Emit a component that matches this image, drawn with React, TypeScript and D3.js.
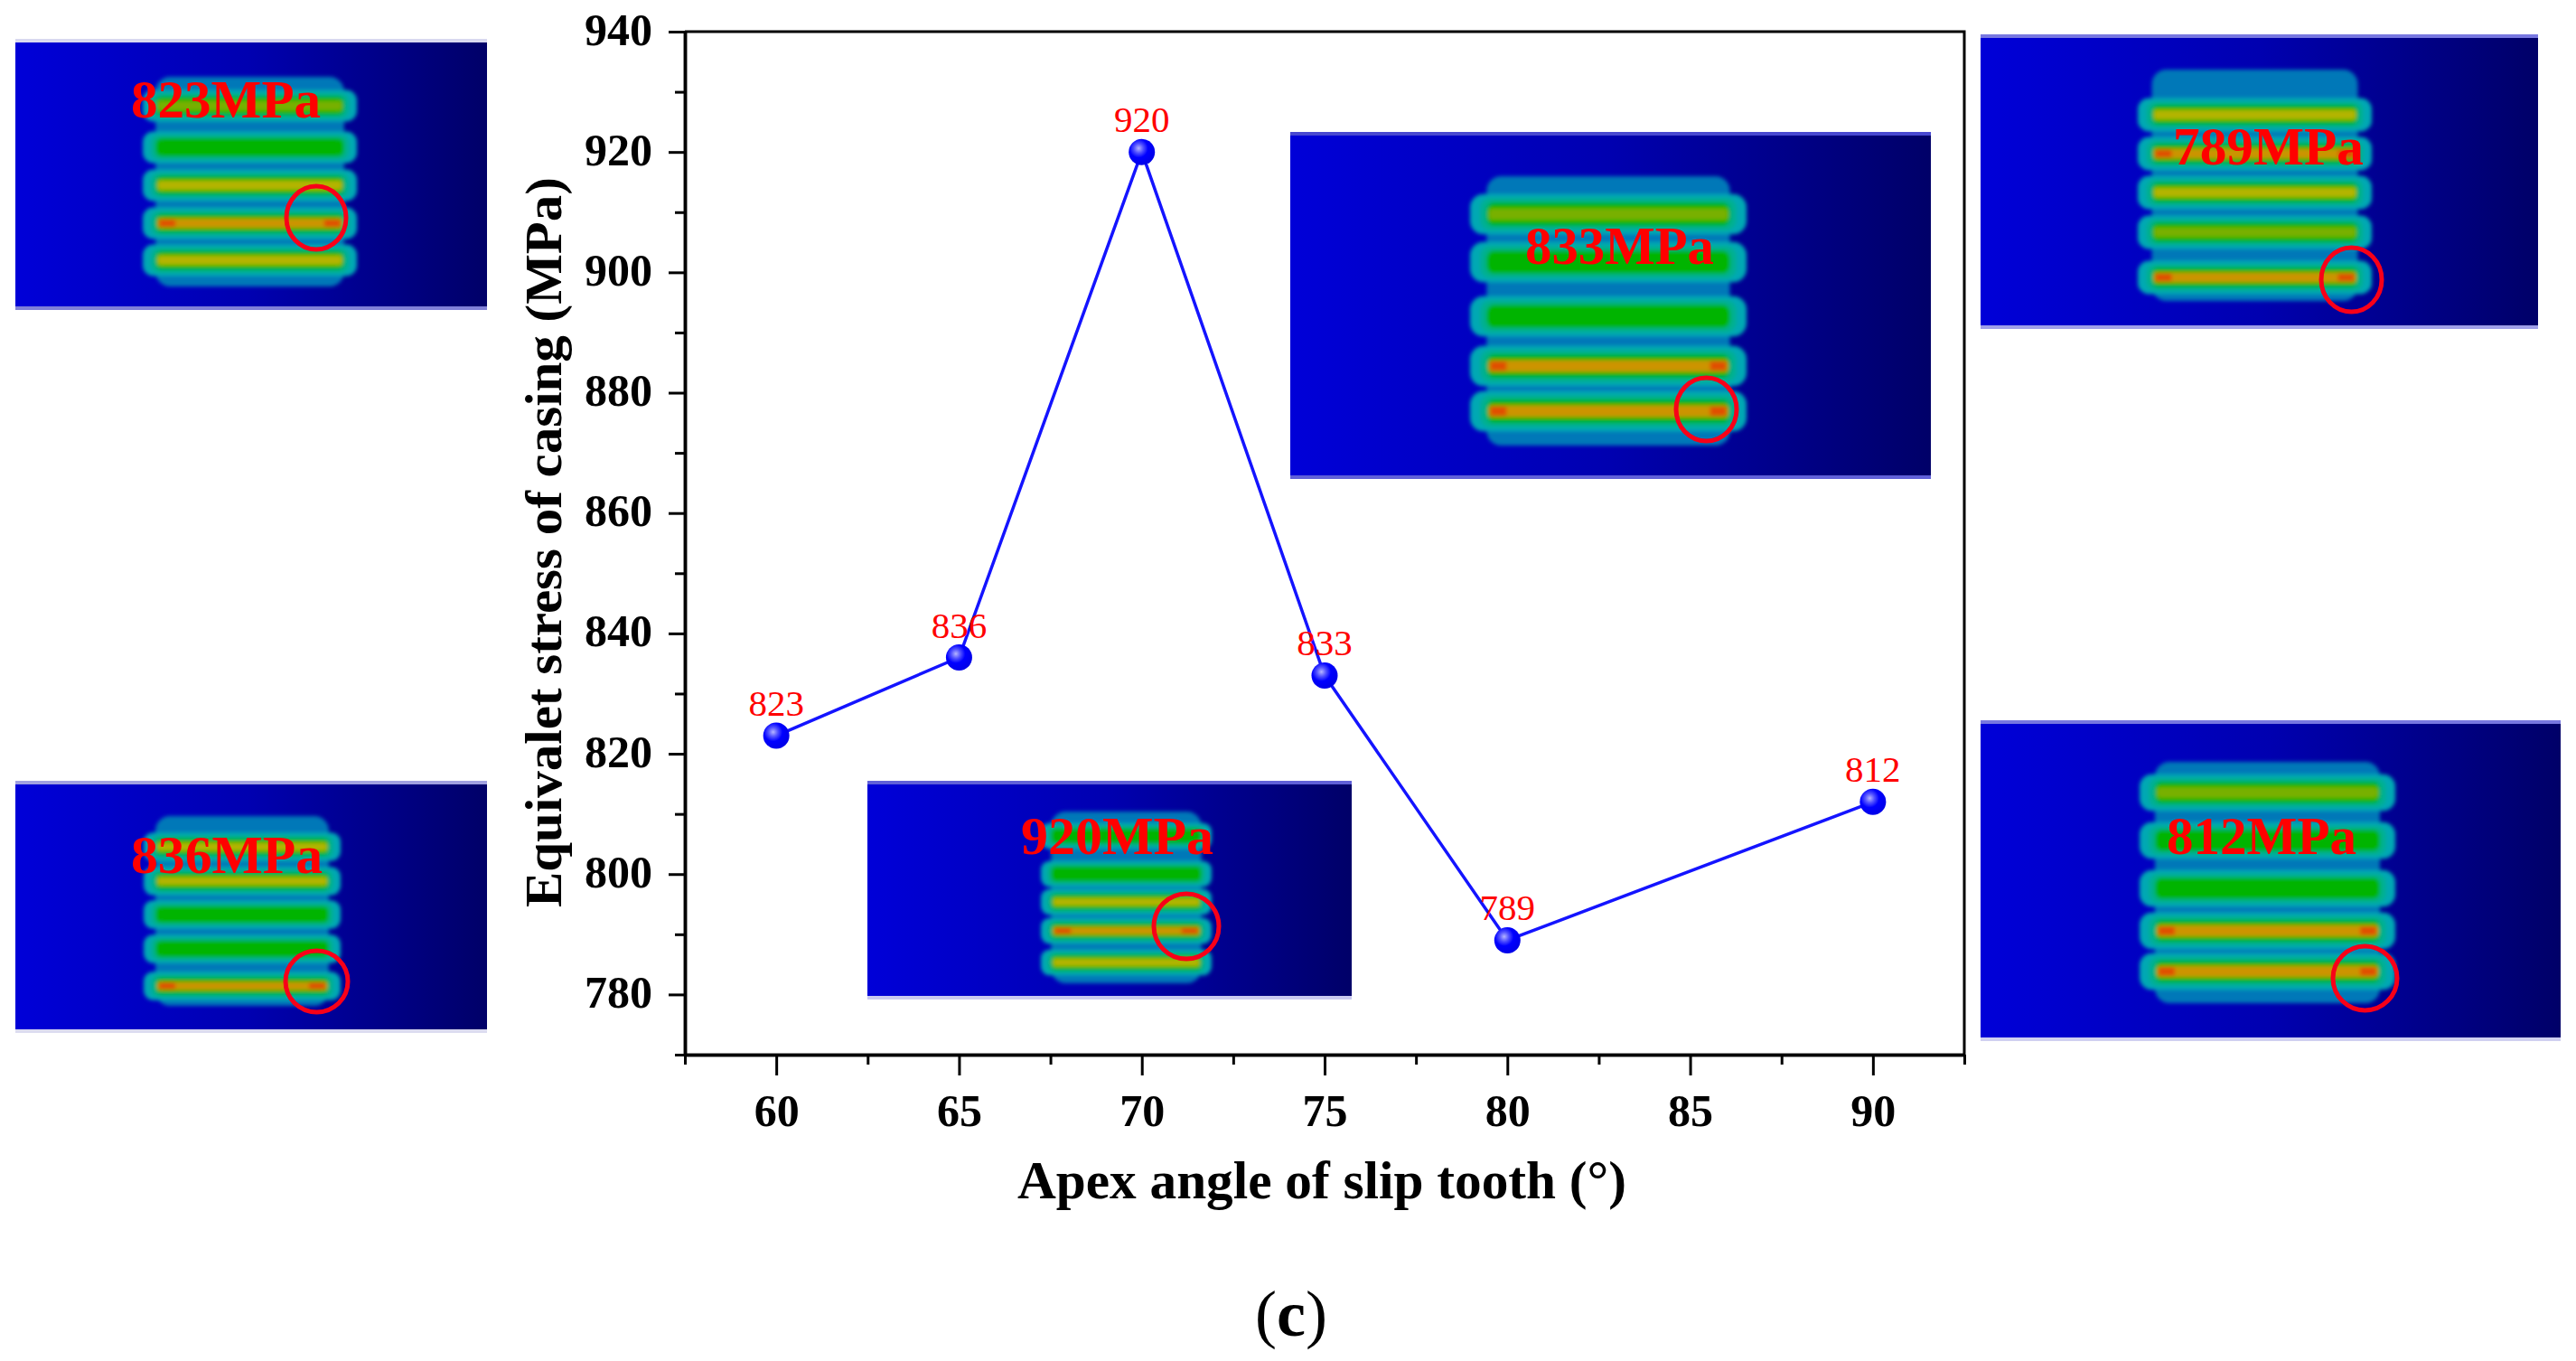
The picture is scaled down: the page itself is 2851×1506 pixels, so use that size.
/**
 * Equivalent stress of casing vs apex angle of slip tooth
 * D3 line chart with contour-plot insets around it
 */

import { useEffect, useRef } from 'react';
import * as d3 from 'd3';

const angles = [60, 65, 70, 75, 80, 90];
const stress = [823, 836, 920, 833, 789, 812];

const xMajorTicks = [60, 65, 70, 75, 80, 85, 90];
const xMinorTicks = [57.5, 62.5, 67.5, 72.5, 77.5, 82.5, 87.5, 92.5];
const yMajorTicks = [780, 800, 820, 840, 860, 880, 900, 920, 940];
const yMinorTicks = [770, 790, 810, 830, 850, 870, 890, 910, 930];

const insetLabels = ['823MPa', '836MPa', '920MPa', '833MPa', '789MPa', '812MPa'];

// stripe colour of each tooth, top to bottom: 0 green, 1 yellow-green, 2 yellow, 3 orange
const toothHeat = [
    [1, 0, 2, 3, 2],
    [2, 2, 0, 0, 3],
    [0, 0, 2, 3, 2],
    [1, 0, 0, 3, 3],
    [2, 3, 2, 1, 3],
    [1, 0, 0, 3, 3]
];

// picture geometry, same order as insetLabels
const insetLayout = [
    { x0: 17, x1: 539, y0: 43, y1: 343, top: '#d8d8f0', bottom: '#8080d8', bx0: 158, bx1: 395, by0: 85, by1: 317, teeth: [117, 163, 205, 247, 288], tx0: 145, tx1: 355, base: 130, ex0: 315, ex1: 385, ey0: 204, ey1: 278 },
    { x0: 17, x1: 539, y0: 864, y1: 1143, top: '#a0a0e0', bottom: '#dcdcf0', bx0: 159, bx1: 377, by0: 903, by1: 1113, teeth: [937, 975, 1012, 1050, 1091], tx0: 145, tx1: 357, base: 966, ex0: 314, ex1: 387, ey0: 1050, ey1: 1122 },
    { x0: 960, x1: 1496, y0: 864, y1: 1106, top: '#6060d8', bottom: '#c8c8f0', bx0: 1152, bx1: 1341, by0: 898, by1: 1088, teeth: [925, 967, 998, 1030, 1065], tx0: 1130, tx1: 1343, base: 945, ex0: 1275, ex1: 1351, ey0: 987, ey1: 1063 },
    { x0: 1428, x1: 2137, y0: 146, y1: 530, top: '#4848d0', bottom: '#6060d8', bx0: 1627, bx1: 1933, by0: 195, by1: 493, teeth: [237, 290, 350, 405, 455], tx0: 1688, tx1: 1897, base: 292, ex0: 1853, ex1: 1924, ey0: 416, ey1: 490 },
    { x0: 2192, x1: 2809, y0: 38, y1: 364, top: '#7878e0', bottom: '#a0a0e8', bx0: 2366, bx1: 2625, by0: 77, by1: 333, teeth: [127, 170, 213, 257, 307], tx0: 2405, tx1: 2616, base: 182, ex0: 2567, ex1: 2638, ey0: 272, ey1: 347 },
    { x0: 2192, x1: 2834, y0: 797, y1: 1152, top: '#7878e0', bottom: '#d0d0f0', bx0: 2368, bx1: 2651, by0: 843, by1: 1110, teeth: [877, 930, 983, 1030, 1075], tx0: 2398, tx1: 2608, base: 945, ex0: 2580, ex1: 2655, ey0: 1045, ey1: 1120 }
];

const heatColors = ['#00b400', '#78b000', '#b4b400', '#cc9400'];
const SERIF = '"Liberation Serif", serif';

export default function App() {
    const svgRef = useRef<SVGSVGElement>(null);

    useEffect(() => {
        if (!svgRef.current) return;

        const svg = d3.select(svgRef.current);
        svg.selectAll('*').remove();

        const left = 758;
        const right = 2174;
        const top = 35;
        const bottom = 1167;

        const xScale = d3.scaleLinear().domain([57.5, 92.5]).range([left, right]);
        const yScale = d3.scaleLinear().domain([770, 940]).range([bottom, top]);

        // Gradients
        const defs = svg.append('defs');
        const bg = defs.append('linearGradient').attr('id', 'insetBg');
        bg.append('stop').attr('offset', '0%').attr('stop-color', '#0000d8');
        bg.append('stop').attr('offset', '50%').attr('stop-color', '#0000b0');
        bg.append('stop').attr('offset', '100%').attr('stop-color', '#000068');

        const ball = defs.append('radialGradient')
            .attr('id', 'ball')
            .attr('cx', '0.38')
            .attr('cy', '0.36')
            .attr('r', '0.65');
        ball.append('stop').attr('offset', '0%').attr('stop-color', '#b4b4ff');
        ball.append('stop').attr('offset', '28%').attr('stop-color', '#5050ff');
        ball.append('stop').attr('offset', '55%').attr('stop-color', '#0000ff');
        ball.append('stop').attr('offset', '100%').attr('stop-color', '#0000e8');

        defs.append('filter')
            .attr('id', 'soft')
            .append('feGaussianBlur')
            .attr('stdDeviation', 2.2);

        // Contour insets
        insetLayout.forEach((box, i) => {
            const g = svg.append('g');
            g.append('rect')
                .attr('x', box.x0)
                .attr('y', box.y0)
                .attr('width', box.x1 - box.x0)
                .attr('height', box.y1 - box.y0)
                .attr('fill', 'url(#insetBg)');
            g.append('rect')
                .attr('x', box.x0)
                .attr('y', box.y0)
                .attr('width', box.x1 - box.x0)
                .attr('height', 4)
                .attr('fill', box.top);
            g.append('rect')
                .attr('x', box.x0)
                .attr('y', box.y1 - 4)
                .attr('width', box.x1 - box.x0)
                .attr('height', 4)
                .attr('fill', box.bottom);

            const blob = g.append('g').attr('filter', 'url(#soft)');
            const inner = (box.bx1 - box.bx0) * 0.06;
            blob.append('rect')
                .attr('x', box.bx0 + inner)
                .attr('y', box.by0)
                .attr('width', box.bx1 - box.bx0 - 2 * inner)
                .attr('height', box.by1 - box.by0)
                .attr('rx', 16)
                .attr('fill', '#0078b8');

            const spacing = (box.teeth[4] - box.teeth[0]) / 4;
            box.teeth.forEach((ty, k) => {
                const band = (h: number, pad: number, color: string) => {
                    blob.append('rect')
                        .attr('x', box.bx0 + pad)
                        .attr('y', ty - h / 2)
                        .attr('width', box.bx1 - box.bx0 - 2 * pad)
                        .attr('height', h)
                        .attr('rx', h / 3)
                        .attr('fill', color);
                };
                const heat = toothHeat[i][k];
                band(spacing * 0.82, 0, '#00a8b4');
                band(spacing * 0.66, inner * 0.6, '#00b090');
                band(spacing * 0.48, inner, '#00b400');
                if (heat > 0) {
                    band(spacing * 0.24, inner + 2, heatColors[heat]);
                }
                if (heat === 3) {
                    // hot spots at both tooth ends
                    [box.bx0 + inner + 4, box.bx1 - inner - 22].forEach(sx => {
                        blob.append('rect')
                            .attr('x', sx)
                            .attr('y', ty - spacing * 0.1)
                            .attr('width', 18)
                            .attr('height', spacing * 0.2)
                            .attr('fill', '#e05000');
                    });
                }
            });

            g.append('ellipse')
                .attr('cx', (box.ex0 + box.ex1) / 2)
                .attr('cy', (box.ey0 + box.ey1) / 2)
                .attr('rx', (box.ex1 - box.ex0) / 2 - 2)
                .attr('ry', (box.ey1 - box.ey0) / 2 - 2)
                .attr('fill', 'none')
                .attr('stroke', '#f80018')
                .attr('stroke-width', 5);

            g.append('text')
                .attr('x', box.tx0)
                .attr('y', box.base)
                .attr('textLength', box.tx1 - box.tx0)
                .attr('lengthAdjust', 'spacingAndGlyphs')
                .attr('font-family', SERIF)
                .attr('font-weight', 700)
                .attr('font-size', 60)
                .attr('fill', '#ff0000')
                .text(insetLabels[i]);
        });

        // Axes
        const styleAxis = (sel: any) => {
            sel.selectAll('path').attr('stroke', '#000').attr('stroke-width', 3.5);
            sel.selectAll('line').attr('stroke', '#000').attr('stroke-width', 3);
            sel.selectAll('text')
                .attr('font-family', SERIF)
                .attr('font-weight', 700)
                .attr('font-size', 50)
                .attr('fill', '#000');
        };

        svg.append('g')
            .attr('transform', `translate(0,${bottom})`)
            .call(d3.axisBottom(xScale).tickValues(xMinorTicks).tickSize(11).tickSizeOuter(0).tickFormat(() => ''))
            .call(styleAxis);
        const xAxis = svg.append('g')
            .attr('transform', `translate(0,${bottom})`)
            .call(d3.axisBottom(xScale).tickValues(xMajorTicks).tickSize(23).tickSizeOuter(0))
            .call(styleAxis);
        xAxis.selectAll('text').attr('y', 79).attr('dy', 0);

        svg.append('g')
            .attr('transform', `translate(${left},0)`)
            .call(d3.axisLeft(yScale).tickValues(yMinorTicks).tickSize(11).tickSizeOuter(0).tickFormat(() => ''))
            .call(styleAxis);
        const yAxis = svg.append('g')
            .attr('transform', `translate(${left},0)`)
            .call(d3.axisLeft(yScale).tickValues(yMajorTicks).tickSize(18).tickSizeOuter(0))
            .call(styleAxis);
        yAxis.selectAll('text').attr('x', -36).attr('dy', 14);

        // Frame
        svg.append('path')
            .attr('d', `M${left},${top}H${right}V${bottom}`)
            .attr('fill', 'none')
            .attr('stroke', '#000')
            .attr('stroke-width', 3);

        // Series
        const line = d3.line<number>()
            .x((_, i) => xScale(angles[i]))
            .y(d => yScale(d));

        svg.append('path')
            .attr('d', line(stress))
            .attr('fill', 'none')
            .attr('stroke', '#1414ff')
            .attr('stroke-width', 3.5);

        svg.selectAll('.pt')
            .data(stress)
            .enter()
            .append('circle')
            .attr('class', 'pt')
            .attr('cx', (_, i) => xScale(angles[i]))
            .attr('cy', d => yScale(d))
            .attr('r', 14.5)
            .attr('fill', 'url(#ball)');

        svg.selectAll('.val')
            .data(stress)
            .enter()
            .append('text')
            .attr('class', 'val')
            .attr('x', (_, i) => xScale(angles[i]))
            .attr('y', d => yScale(d) - 22)
            .attr('text-anchor', 'middle')
            .attr('font-family', SERIF)
            .attr('font-size', 41)
            .attr('fill', '#ff0000')
            .text(d => d);

        // Titles
        svg.append('text')
            .attr('x', 1126)
            .attr('y', 1326)
            .attr('textLength', 674)
            .attr('lengthAdjust', 'spacingAndGlyphs')
            .attr('font-family', SERIF)
            .attr('font-weight', 700)
            .attr('font-size', 60)
            .text('Apex angle of slip tooth (°)');

        svg.append('text')
            .attr('transform', 'translate(621,1004) rotate(-90)')
            .attr('textLength', 808)
            .attr('lengthAdjust', 'spacingAndGlyphs')
            .attr('font-family', SERIF)
            .attr('font-weight', 700)
            .attr('font-size', 58)
            .text('Equivalet stress of casing (MPa)');

        const panel = svg.append('text')
            .attr('x', 1429)
            .attr('y', 1478)
            .attr('text-anchor', 'middle')
            .attr('font-family', SERIF)
            .attr('font-size', 72);
        panel.append('tspan').text('(');
        panel.append('tspan').attr('font-weight', 700).text('c');
        panel.append('tspan').text(')');
    }, []);

    return (
        <svg
            ref={svgRef}
            width={2851}
            height={1506}
            style={{ position: 'fixed', left: 0, top: 0, background: '#fff' }}
        />
    );
}
